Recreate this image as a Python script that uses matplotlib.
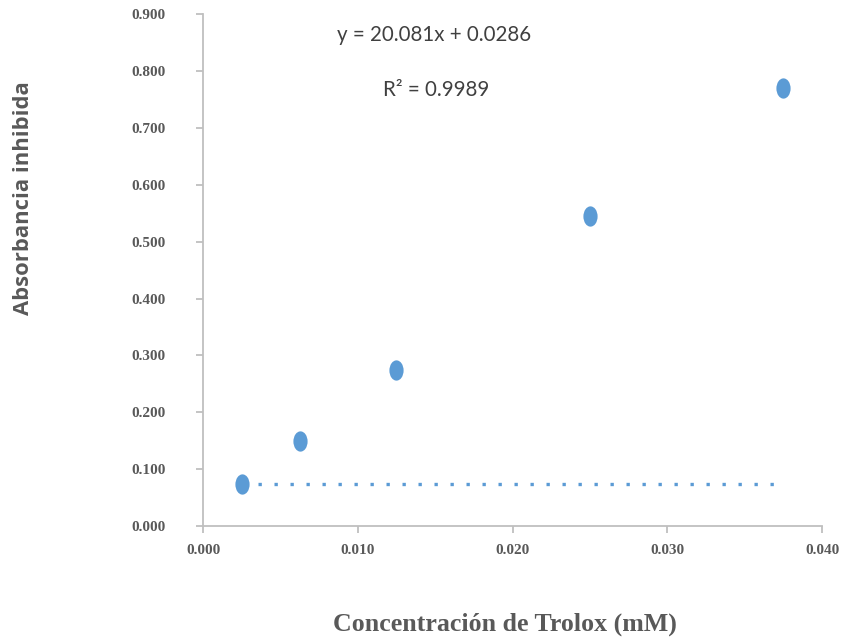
import numpy as np
import matplotlib
matplotlib.use("Agg")
import matplotlib.pyplot as plt
from matplotlib.path import Path
from matplotlib.transforms import Affine2D


# Trolox calibration points
conc = [0.0025, 0.00625, 0.0125, 0.025, 0.0375]     # mM
absorb = [0.073, 0.150, 0.275, 0.546, 0.771]         # absorbancia inhibida

# dotted trend line as it appears in the picture (flat at first point)
trend_x = [0.0025, 0.0375]
trend_y = [0.073, 0.073]

xticks = [0.000, 0.010, 0.020, 0.030, 0.040]
yticks = [0.0, 0.1, 0.2, 0.3, 0.4, 0.5, 0.6, 0.7, 0.8, 0.9]

eq_text = "y = 20.081x + 0.0286"
r2_text = "R² = 0.9989"

blue = "#5B9BD5"
grey_txt = "#595959"
axis_col = "#BFBFBF"


def main():
    fig = plt.figure(figsize=(8.42, 6.43), dpi=100)
    ax = fig.add_axes([0.2411, 0.1820, 0.7352, 0.7955])

    # ellipse marker (points look stretched vertically)
    ell = Path.unit_circle().transformed(Affine2D().scale(0.70, 1.0))

    ax.plot(trend_x, trend_y, color=blue, lw=2.4, linestyle=(0, (1, 3.8)),
            dash_capstyle='butt', zorder=2)
    ax.plot(conc, absorb, linestyle='none', marker=ell, markersize=14.6,
            color=blue, markeredgewidth=0, zorder=3)

    ax.set_xlim(0, 0.04)
    ax.set_ylim(0, 0.9)
    ax.set_xticks(xticks)
    ax.set_yticks(yticks)
    ax.set_xticklabels(['%.3f' % v for v in xticks])
    ax.set_yticklabels(['%.3f' % v for v in yticks])

    for s in ['top', 'right']:
        ax.spines[s].set_visible(False)
    for s in ['left', 'bottom']:
        ax.spines[s].set_color(axis_col)
        ax.spines[s].set_linewidth(1.3)

    ax.tick_params(axis='both', direction='out', color=axis_col, width=1.3,
                   length=5, labelcolor=grey_txt)
    ax.tick_params(axis='y', pad=22)
    ax.tick_params(axis='x', pad=8)
    for lab in ax.get_xticklabels() + ax.get_yticklabels():
        lab.set_fontfamily('Liberation Serif')
        lab.set_fontweight('bold')
        lab.set_fontsize(11)

    # equation + R2
    fig.text(434 / 842, 1 - 35 / 643, eq_text, ha='center', va='center',
             fontsize=14.8, family='Lato', color='#404040')
    fig.text(436 / 842, 1 - 90 / 643, r2_text, ha='center', va='center',
             fontsize=14.8, family='Lato', color='#404040')

    # axis titles
    fig.text(505 / 842, 1 - 624 / 643, "Concentración de Trolox (mM)",
             ha='center', va='center', fontsize=18.6, family='Liberation Serif',
             fontweight='bold', color=grey_txt)
    fig.text(24 / 842, 1 - 198 / 643, "Absorbancia inhibida", rotation=90,
             ha='center', va='center', fontsize=15.8, family='Open Sans',
             fontweight='bold', color=grey_txt)

    fig.savefig('out.png', dpi=100, facecolor='white')


if __name__ == "__main__":
    main()
